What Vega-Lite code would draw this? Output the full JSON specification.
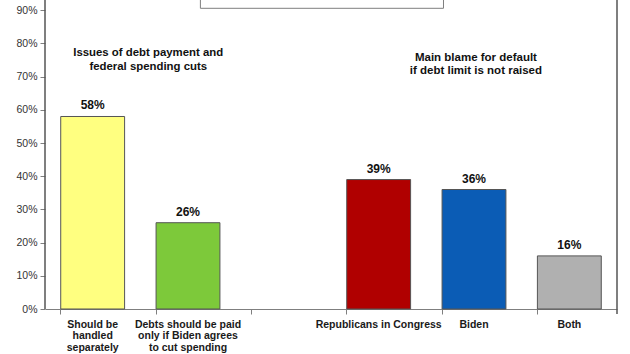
{
  "$schema": "https://vega.github.io/schema/vega-lite/v6.json",
  "width": 572,
  "height": 309,
  "autosize": {"type": "none"},
  "padding": {"left": 45, "top": 0, "right": 13, "bottom": 45},
  "background": "white",
  "config": {
    "view": {"stroke": null},
    "font": "Liberation Sans",
    "axis": {"grid": false, "domainColor": "#7f7f7f", "tickColor": "#7f7f7f", "labelFont": "Liberation Sans"},
    "axisLeft": {"labelOverlap": false, "domain": false, "tickSize": 5, "labelPadding": 3, "labelFontSize": 10.5, "labelColor": "#333333"}
  },
  "datasets": {
    "bars": [
      {"cat": "Should be|handled|separately", "value": 58, "group": "a"},
      {"cat": "Debts should be paid|only if Biden agrees|to cut spending", "value": 26, "group": "b"},
      {"cat": "Republicans in Congress", "value": 39, "group": "c"},
      {"cat": "Biden", "value": 36, "group": "d"},
      {"cat": "Both", "value": 16, "group": "e"}
    ],
    "notesLeft": [
      {"cat": "Should be|handled|separately", "value": 77.0, "text": "Issues of debt payment and"},
      {"cat": "Should be|handled|separately", "value": 73.0, "text": "federal spending cuts"}
    ],
    "notesRight": [
      {"cat": "Biden", "value": 75.7, "text": "Main blame for default"},
      {"cat": "Biden", "value": 71.6, "text": "if debt limit is not raised"}
    ],
    "box": [{"x": 1.63, "x2": 4.18, "y": 90.6, "y2": 100}],
    "frame": [{"x": 0, "y": 0, "y2": 100}, {"x": 6, "y": -1.5, "y2": 100}]
  },
  "layer": [
    {
      "layer": [
        {
          "data": {"name": "bars"},
          "mark": {"type": "bar", "stroke": "#555555", "strokeWidth": 1},
          "encoding": {
            "x": {
              "field": "cat", "type": "nominal", "sort": null,
              "scale": {
                "domain": ["Should be|handled|separately", "Debts should be paid|only if Biden agrees|to cut spending", "gap", "Republicans in Congress", "Biden", "Both"],
                "paddingInner": 0.33, "paddingOuter": 0.165
              },
              "axis": {
                "title": null, "labelAngle": 0, "bandPosition": 0, "tickSize": 5, "labelPadding": 5,
                "labelFontWeight": "bold", "labelFontSize": 10.5, "labelColor": "#1a1a1a", "labelLineHeight": 11.5,
                "labelExpr": "datum.value == 'gap' ? '' : split(datum.value, '|')"
              }
            },
            "y": {
              "field": "value", "type": "quantitative",
              "scale": {"domain": [0, 93.1], "nice": false},
              "axis": {
                "title": null, "values": [0, 10, 20, 30, 40, 50, 60, 70, 80, 90],
                "labelOverlap": false,
                "labelExpr": "datum.value + '%'"
              }
            },
            "color": {
              "field": "group", "type": "nominal", "legend": null,
              "scale": {"domain": ["a", "b", "c", "d", "e"], "range": ["#ffff80", "#7dc93a", "#b00000", "#0b5cb5", "#b0b0b0"]}
            }
          }
        },
        {
          "data": {"name": "bars"},
          "transform": [{"calculate": "datum.value + '%'", "as": "lbl"}],
          "mark": {"type": "text", "baseline": "bottom", "dy": -4, "fontWeight": "bold", "fontSize": 12, "color": "#111111"},
          "encoding": {
            "x": {"field": "cat", "type": "nominal", "sort": null},
            "y": {"field": "value", "type": "quantitative", "axis": {
                "title": null, "values": [0, 10, 20, 30, 40, 50, 60, 70, 80, 90],
                "labelOverlap": false,
                "labelExpr": "datum.value + '%'"
              }},
            "text": {"field": "lbl"}
          }
        },
        {
          "data": {"name": "notesLeft"},
          "mark": {"type": "text", "baseline": "middle", "fontWeight": "bold", "fontSize": 11.4, "color": "#111111"},
          "encoding": {
            "x": {"field": "cat", "type": "nominal", "sort": null, "bandPosition": 1.37},
            "y": {"field": "value", "type": "quantitative", "axis": {
                "title": null, "values": [0, 10, 20, 30, 40, 50, 60, 70, 80, 90],
                "labelOverlap": false,
                "labelExpr": "datum.value + '%'"
              }},
            "text": {"field": "text"}
          }
        },
        {
          "data": {"name": "notesRight"},
          "mark": {"type": "text", "baseline": "middle", "fontWeight": "bold", "fontSize": 11.5, "color": "#111111"},
          "encoding": {
            "x": {"field": "cat", "type": "nominal", "sort": null, "bandPosition": 0.53},
            "y": {"field": "value", "type": "quantitative", "axis": {
                "title": null, "values": [0, 10, 20, 30, 40, 50, 60, 70, 80, 90],
                "labelOverlap": false,
                "labelExpr": "datum.value + '%'"
              }},
            "text": {"field": "text"}
          }
        }
      ]
    },
    {
      "layer": [
        {
          "data": {"name": "box"},
          "mark": {"type": "rect", "fill": "white", "stroke": "#7f7f7f", "strokeWidth": 1, "clip": false},
          "encoding": {
            "x": {"field": "x", "type": "quantitative", "scale": {"domain": [0, 6], "nice": false}, "axis": null},
            "x2": {"field": "x2"},
            "y": {"field": "y", "type": "quantitative", "scale": {"domain": [0, 93.1], "nice": false}, "axis": null},
            "y2": {"field": "y2"}
          }
        },
        {
          "data": {"name": "frame"},
          "mark": {"type": "rule", "color": "#555555", "strokeWidth": 1.5, "clip": false},
          "encoding": {
            "x": {"field": "x", "type": "quantitative", "axis": null},
            "y": {"field": "y", "type": "quantitative", "axis": null},
            "y2": {"field": "y2"}
          }
        }
      ]
    }
  ],
  "resolve": {"scale": {"x": "independent", "y": "independent"}}
}
